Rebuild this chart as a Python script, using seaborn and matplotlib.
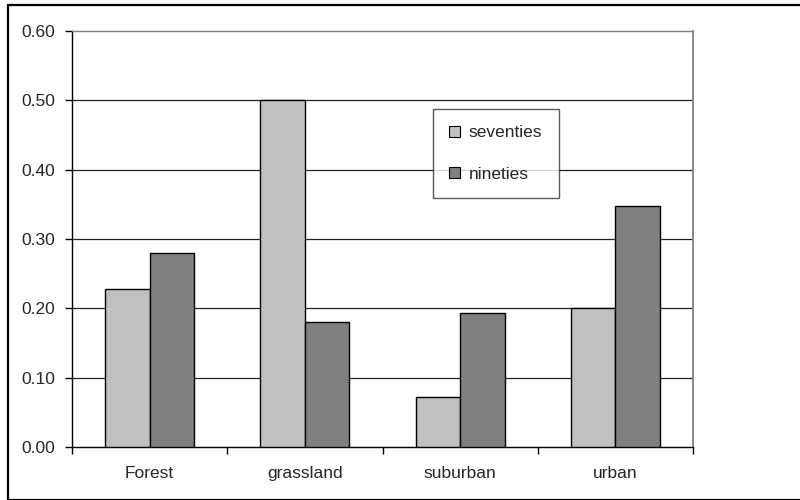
import matplotlib
matplotlib.use("Agg")
import matplotlib.pyplot as plt
from matplotlib.patches import Patch, Rectangle
import seaborn as sns
import pandas as pd

habitats = ["Forest", "grassland", "suburban", "urban"]
seventies = [0.228, 0.500, 0.072, 0.200]
nineties = [0.280, 0.180, 0.193, 0.347]
series_names = ["seventies", "nineties"]
series_colors = ["#C0C0C0", "#808080"]
y_ticks = [0.0, 0.1, 0.2, 0.3, 0.4, 0.5, 0.6]

df = pd.DataFrame({
    "habitat": habitats * 2,
    "value": seventies + nineties,
    "decade": [series_names[0]] * len(habitats) + [series_names[1]] * len(habitats),
})

sns.set_style("white")
plt.rcParams["font.family"] = ["Liberation Sans", "DejaVu Sans"]
FS = 12.5
plt.rcParams["font.size"] = FS

fig = plt.figure(figsize=(8, 5), dpi=100)
ax = fig.add_axes([72 / 800, 53 / 500, (693 - 72) / 800, (447 - 31) / 500])

# outer chart frame
fig.patches.append(Rectangle((8 / 800, 0.5 / 500), 1.2, (495.5 - 0.5) / 500,
                             transform=fig.transFigure, fill=False,
                             edgecolor="black", linewidth=1.6, zorder=0))

sns.barplot(data=df, x="habitat", y="value", hue="decade",
            palette=series_colors, hue_order=series_names, order=habitats,
            edgecolor="black", linewidth=1.0, width=0.573, gap=0,
            saturation=1, errorbar=None, ax=ax, zorder=3)

ax.set_ylim(0, 0.6)
ax.set_xlim(-0.5, len(habitats) - 0.5)
ax.set_yticks(y_ticks)
ax.set_yticklabels([f"{t:.2f}" for t in y_ticks])
ax.set_xlabel("")
ax.set_ylabel("")

# horizontal gridlines
for t in y_ticks[1:-1]:
    ax.axhline(t, color="#222222", linewidth=0.9, zorder=1)

ax.tick_params(axis="y", direction="out", length=5, width=1, color="black",
               pad=7, left=True, labelsize=FS)
ax.tick_params(axis="x", which="major", length=0, pad=14, labelsize=FS)
ax.set_xticks([i + 0.5 for i in range(-1, len(habitats))], minor=True)
ax.tick_params(axis="x", which="minor", direction="out", length=5, width=1,
               color="black", bottom=True)

ax.spines["left"].set_color("black")
ax.spines["bottom"].set_color("black")
ax.spines["left"].set_linewidth(1.0)
ax.spines["bottom"].set_linewidth(1.0)
ax.spines["top"].set_color("#808080")
ax.spines["right"].set_color("#808080")
ax.spines["top"].set_linewidth(1.0)
ax.spines["right"].set_linewidth(1.3)

if ax.get_legend() is not None:
    ax.get_legend().remove()

handles = [Patch(facecolor=c, edgecolor="black", linewidth=0.8) for c in series_colors]
leg = fig.legend(handles, series_names, loc="upper left",
                 bbox_to_anchor=(433 / 800, 1 - 109 / 500), borderaxespad=0,
                 frameon=True, fancybox=False, shadow=False,
                 handlelength=0.6, handleheight=0.6, handletextpad=0.5,
                 labelspacing=1.5, borderpad=0.95, fontsize=FS)
leg.get_frame().set_edgecolor("#303030")
leg.get_frame().set_linewidth(1.0)
leg.set_zorder(5)

fig.savefig("out.png", dpi=100)
